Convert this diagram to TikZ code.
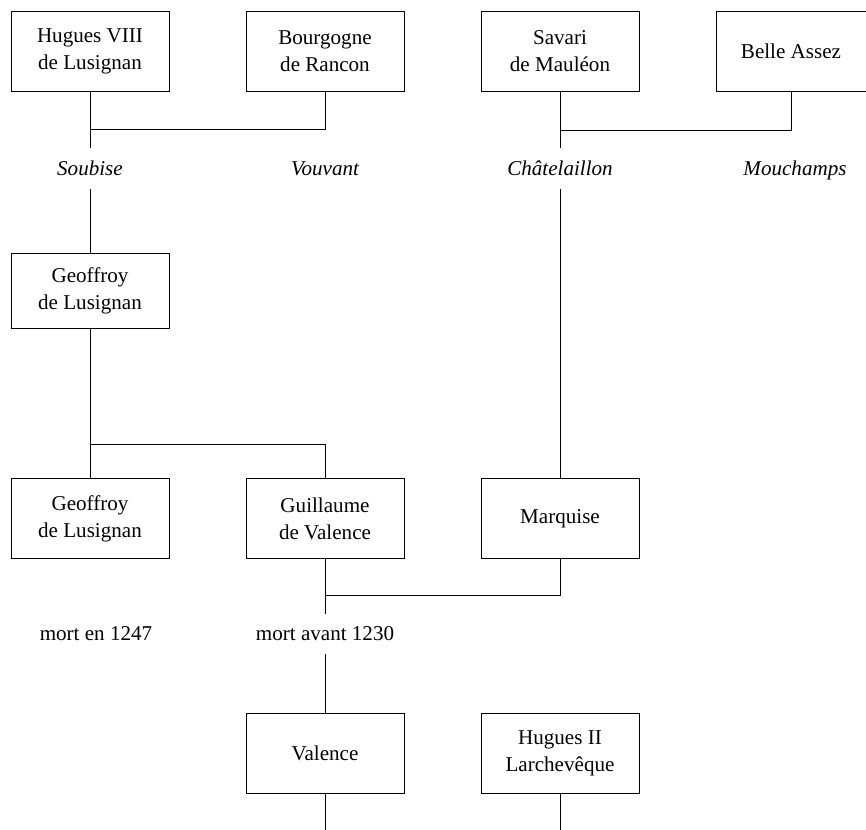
\documentclass[tikz,border=0pt]{standalone}
\usepackage{fontspec}
\setmainfont{Liberation Serif}
\usepackage{tikz}
\usetikzlibrary{positioning}

\begin{document}
\begin{tikzpicture}[
        node distance = 2.35cm,
        every node/.style={font=\fontsize{12}{15.3}\selectfont},
        person/.style={rectangle, draw, line width=0.5pt, align=center, minimum width=3.16cm, minimum height=1.6cm},
        fief/.style={font=\fontsize{12}{15.3}\selectfont\itshape, minimum height=0.8cm},
        note/.style={minimum height=0.8cm},
        link/.style={line width=0.45pt}
    ]
        \useasboundingbox (0,0) rectangle (17.32,-16.6);

        \node[person] at (1.8,-1.02) (hugues) {Hugues VIII\\de Lusignan};
        \node[person, right of=hugues, xshift=2.35cm] (bourgogne) {Bourgogne\\de Rancon};
        \node[person, right of=bourgogne, xshift=2.35cm] (savari) {Savari\\de Mauléon};
        \node[person, right of=savari, xshift=2.27cm, minimum width=3.0cm] (belle) {Belle Assez};

        \node[fief, below of=hugues] (soubise) {Soubise};
        \node[fief, below of=bourgogne] (vouvant) {Vouvant};
        \node[fief, below of=savari] (chatelaillon) {Châtelaillon};
        \node[fief, below of=belle, xshift=0.08cm, yshift=-0.04cm] (mouchamps) {Mouchamps};

        \node[person, below of=soubise, yshift=-0.09cm, minimum height=1.5cm] (geoffroy) {Geoffroy\\de Lusignan};
        \node[person, below of=geoffroy, yshift=-2.21cm] (geoffroyfils) {Geoffroy\\de Lusignan};
        \node[person, right of=geoffroyfils, xshift=2.35cm] (guillaume) {Guillaume\\de Valence};
        \node[person, right of=guillaume, xshift=2.35cm] (marquise) {Marquise};

        \node[note, below of=geoffroyfils, yshift=0.04cm, xshift=0.12cm] (mort1247) {mort en 1247};
        \node[note, below of=guillaume, yshift=0.04cm] (mortavant) {mort avant 1230};

        \node[person, below of=mortavant, yshift=-0.03cm] (valence) {Valence};
        \node[person, right of=valence, xshift=2.35cm] (huguesii) {Hugues II\\Larchevêque};

        % joins
        \coordinate (join1) at ([yshift=-0.76cm]hugues.south);
        \coordinate (join2) at ([yshift=-0.78cm]savari.south);
        \coordinate (join3) at ([yshift=-2.31cm]geoffroy.south);
        \coordinate (join4) at ([yshift=-0.72cm]guillaume.south);
        \coordinate (endvalence) at ([yshift=-0.8cm]valence.south);
        \coordinate (endhugues) at ([yshift=-0.8cm]huguesii.south);

        \draw[link] (hugues) -- (soubise);
        \draw[link] (bourgogne) |- (join1);
        \draw[link] (savari) -- (chatelaillon);
        \draw[link] (belle) |- (join2);
        \draw[link] (soubise) -- (geoffroy);
        \draw[link] (geoffroy) -- (geoffroyfils);
        \draw[link] (guillaume) |- (join3);
        \draw[link] (chatelaillon) -- (marquise);
        \draw[link] (guillaume) -- (mortavant);
        \draw[link] (marquise) |- (join4);
        \draw[link] (mortavant) -- (valence);
        \draw[link] (valence) -- (endvalence);
        \draw[link] (huguesii) -- (endhugues);
    \end{tikzpicture}
\end{document}
